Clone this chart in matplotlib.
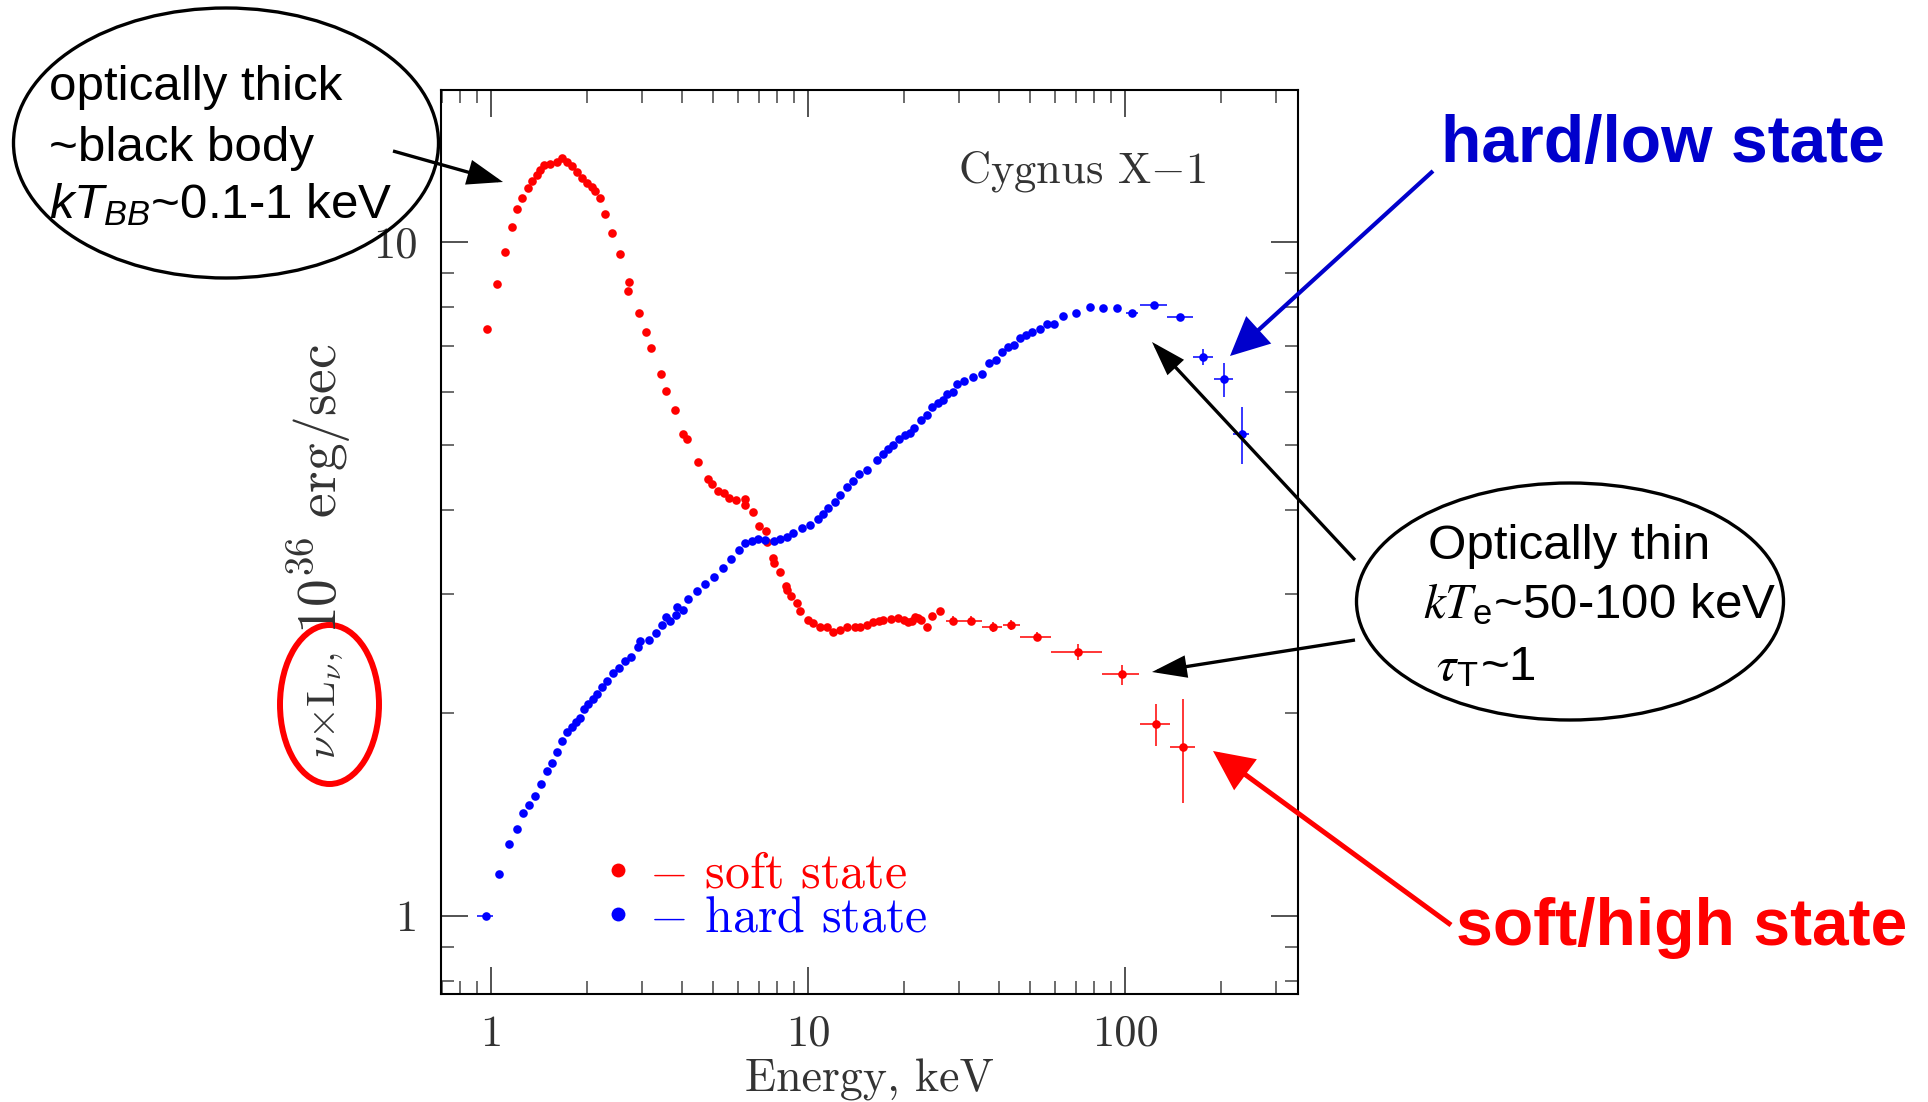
import numpy as np
import matplotlib
matplotlib.use('Agg')
import matplotlib.pyplot as plt
from matplotlib.patches import Ellipse, FancyArrowPatch
from matplotlib.lines import Line2D
from matplotlib import ticker

plt.rcParams['mathtext.fontset'] = 'cm'
plt.rcParams['mathtext.rm'] = 'Liberation Sans'
plt.rcParams['mathtext.it'] = 'Liberation Sans:italic'
plt.rcParams['mathtext.sf'] = 'Liberation Sans'
plt.rcParams['axes.formatter.use_mathtext'] = True

# ---------------- data ----------------
soft_E = [0.969, 1.044, 1.11, 1.162, 1.208, 1.252, 1.305, 1.344, 1.394, 1.428, 1.473,
          1.535, 1.612, 1.671, 1.733, 1.797, 1.863, 1.932, 2.004, 2.078, 2.128, 2.207,
          2.294, 2.413, 2.552, 2.724, 2.71, 2.937, 3.076, 3.204, 3.43, 3.573, 3.805,
          4.024, 4.143, 4.487, 4.848, 4.968, 5.21, 5.433, 5.609, 5.93, 6.33, 6.33, 6.72,
          7.02, 7.37, 7.41, 7.74, 7.82, 8.16, 8.51, 8.58, 8.84, 9.21, 9.44, 10.02, 10.39,
          10.91, 11.46, 11.97, 12.62, 13.24, 14.06, 14.59, 15.3, 16.07, 16.7, 17.28, 18.2,
          19.27, 20.0, 20.72, 21.2, 21.76, 22.2, 22.73, 23.68, 24.55, 26.09]
soft_F = [7.42, 8.67, 9.65, 10.54, 11.18, 11.63, 12.04, 12.32, 12.58, 12.79, 13.01,
          13.06, 13.15, 13.31, 13.15, 12.97, 12.72, 12.43, 12.22, 12.08, 11.91, 11.61,
          11.0, 10.32, 9.59, 8.73, 8.47, 7.86, 7.35, 6.96, 6.36, 6.01, 5.63,
          5.19, 5.10, 4.71, 4.45, 4.375, 4.276, 4.237, 4.168, 4.143, 4.15, 4.07, 3.97,
          3.79, 3.73, 3.585, 3.395, 3.345, 3.235, 3.09, 3.045, 2.987, 2.91, 2.83, 2.75, 2.718,
          2.687, 2.683, 2.64, 2.66, 2.687, 2.687, 2.687, 2.70, 2.733, 2.74, 2.75, 2.76,
          2.765, 2.75, 2.733, 2.74, 2.78, 2.77, 2.75, 2.683, 2.787, 2.838]

soft_bin_E = [28.6, 32.68, 38.24, 43.8, 52.66, 71.1, 97.8, 125.0, 152.4]
soft_bin_F = [2.742, 2.742, 2.683, 2.703, 2.597, 2.464, 2.284, 1.927, 1.783]
soft_bin_Elo = [27.2, 30.6, 35.3, 41.1, 46.7, 58.3, 84.4, 111.2, 138.7]
soft_bin_Ehi = [30.6, 35.3, 41.0, 46.7, 58.3, 84.4, 111.0, 138.7, 166.0]
soft_bin_Flo = [2.70, 2.70, 2.64, 2.66, 2.56, 2.40, 2.20, 1.79, 1.47]
soft_bin_Fhi = [2.79, 2.79, 2.73, 2.75, 2.64, 2.53, 2.36, 2.06, 2.096]

hard_E = [1.062, 1.137, 1.205, 1.264, 1.321, 1.380, 1.438, 1.499, 1.561, 1.615, 1.675,
          1.733, 1.797, 1.854, 1.909, 1.965, 2.027, 2.093, 2.155, 2.235, 2.327, 2.431,
          2.539, 2.647, 2.764, 2.902, 2.951, 3.158, 3.316, 3.456, 3.565, 3.670, 3.833,
          3.869, 4.044, 4.193, 4.476, 4.733, 5.052, 5.382, 5.716, 6.058, 6.33, 6.673,
          6.97, 7.32, 7.78, 8.16, 8.58, 8.99, 9.55, 10.15, 10.78, 11.18, 11.59, 12.17,
          12.62, 13.24, 13.9, 14.52, 15.32, 16.47, 17.28, 17.92, 18.58, 19.41, 20.23,
          20.98, 21.6, 22.73, 23.68, 24.67, 25.66, 26.6, 27.51, 28.6, 29.58, 31.05,
          33.23, 35.32, 37.24, 39.09, 41.02, 42.84, 44.65, 46.7, 48.63, 50.9, 53.94,
          56.88, 59.7, 63.9, 70.0, 77.2, 85.1, 94.2]
hard_F = [1.154, 1.279, 1.348, 1.42, 1.459, 1.508, 1.572, 1.641, 1.687, 1.749, 1.82,
          1.875, 1.909, 1.942, 1.969, 2.028, 2.061, 2.097, 2.135, 2.184, 2.232, 2.291,
          2.331, 2.392, 2.424, 2.504, 2.559, 2.568, 2.627, 2.703, 2.781, 2.742, 2.797,
          2.871, 2.845, 2.957, 3.038, 3.106, 3.187, 3.281, 3.389, 3.491, 3.58, 3.605,
          3.622, 3.613, 3.605, 3.622, 3.646, 3.696, 3.760, 3.803, 3.882, 3.949, 4.035, 4.119,
          4.214, 4.325, 4.424, 4.521, 4.589, 4.75, 4.849, 4.926, 5.0, 5.096, 5.172,
          5.212, 5.29, 5.444, 5.538, 5.685, 5.775, 5.829, 5.949, 5.996, 6.156, 6.226,
          6.299, 6.364, 6.607, 6.683, 6.861, 6.993, 7.033, 7.195, 7.278, 7.36, 7.43,
          7.556, 7.568, 7.766, 7.837, 8.017, 7.99, 7.97]

hard_bin_E = [0.962, 105.0, 122.9, 149.1, 176.6, 205.3, 233.4]
hard_bin_F = [1.0, 7.86, 8.063, 7.73, 6.757, 6.254, 5.19]
hard_bin_Elo = [0.905, 100.5, 111.2, 135.5, 163.9, 190.9, 219.7]
hard_bin_Ehi = [1.017, 109.9, 135.3, 163.5, 189.4, 218.7, 246.6]
hard_bin_Flo = [1.0, 7.86, 8.063, 7.73, 6.56, 5.88, 4.68]
hard_bin_Fhi = [1.0, 7.86, 8.063, 7.73, 6.93, 6.62, 5.7]

x_major = [1, 10, 100]
x_major_labels = ['1', '10', '100']
y_major = [1, 10]
y_major_labels = ['1', '10']

# ---------------- figure ----------------
W, H = 1928, 1102
fig = plt.figure(figsize=(W / 100, H / 100), dpi=100)
fig.patch.set_facecolor('white')


def fx(x):
    return x / W


def fy(y):
    return 1 - y / H


ax = fig.add_axes([441 / W, 1 - 994 / H, 857 / W, 904 / H])
ax.set_xscale('log')
ax.set_yscale('log')
ax.set_xlim(0.695, 351)
ax.set_ylim(0.766, 16.81)

RED = '#ff0000'
BLUE = '#0000ff'

ax.plot(soft_E, soft_F, ls='none', marker='o', ms=6.2, mew=0, color=RED, zorder=3)
ax.plot(hard_E, hard_F, ls='none', marker='o', ms=6.2, mew=0, color=BLUE, zorder=3)


def errbar(E, F, Elo, Ehi, Flo, Fhi, c):
    E = np.array(E); F = np.array(F)
    xerr = [E - np.array(Elo), np.array(Ehi) - E]
    yerr = [F - np.array(Flo), np.array(Fhi) - F]
    ax.errorbar(E, F, xerr=xerr, yerr=yerr, fmt='o', ms=6.2, mew=0, color=c,
                ecolor=c, elinewidth=1.1, capsize=0, zorder=3)


errbar(soft_bin_E, soft_bin_F, soft_bin_Elo, soft_bin_Ehi, soft_bin_Flo, soft_bin_Fhi, RED)
errbar(hard_bin_E, hard_bin_F, hard_bin_Elo, hard_bin_Ehi, hard_bin_Flo, hard_bin_Fhi, BLUE)

# axes styling
for s in ax.spines.values():
    s.set_linewidth(1.5)
    s.set_color('black')

ax.xaxis.set_major_locator(ticker.FixedLocator(x_major))
ax.xaxis.set_major_formatter(ticker.FixedFormatter(x_major_labels))
ax.yaxis.set_major_locator(ticker.FixedLocator(y_major))
ax.yaxis.set_major_formatter(ticker.FixedFormatter(y_major_labels))
ax.xaxis.set_minor_locator(ticker.LogLocator(base=10, subs=np.arange(2, 10), numticks=20))
ax.yaxis.set_minor_locator(ticker.LogLocator(base=10, subs=np.arange(2, 10), numticks=20))
ax.xaxis.set_minor_formatter(ticker.NullFormatter())
ax.yaxis.set_minor_formatter(ticker.NullFormatter())

ax.tick_params(which='both', direction='in', top=True, right=True, color='#444444')
ax.tick_params(which='major', length=19.5, width=1.3)
ax.tick_params(which='minor', length=9.5, width=1.1)
ax.tick_params(axis='x', which='major', pad=15, labelsize=32, labelcolor='#333333',
               labelfontfamily='cmr10')
ax.tick_params(axis='y', which='major', pad=17, labelsize=32, labelcolor='#333333',
               labelfontfamily='cmr10')

ax.set_xlabel('Energy, keV', fontsize=33, fontfamily='cmr10', color='#333333', labelpad=3)

# y label in two pieces (the first one is smaller in the reference)
fig.text(fx(325), fy(706), r'$\nu{\times}\mathrm{L}_{\nu},$',
         rotation=90, ha='center', va='center', fontsize=29.5, color='#333333')
fig.text(fx(320), fy(489), r'$10^{36}\ \mathrm{erg/sec}$',
         rotation=90, ha='center', va='center', fontsize=40, color='#333333')

ax.text(0.748, 0.91, r'Cygnus X$-$1', transform=ax.transAxes, ha='center', va='center',
        fontsize=32, fontfamily='cmr10', color='#333333')

# legend
handles = [Line2D([], [], ls='none', marker='o', ms=10, mew=0, color=RED),
           Line2D([], [], ls='none', marker='o', ms=10, mew=0, color=BLUE)]
labels = [r'$-$ soft state', r'$-$ hard state']
ax.legend(handles, labels, loc='lower left', bbox_to_anchor=(0.19, 0.058), frameon=False,
          prop={'family': 'cmr10', 'size': 36}, handlelength=0.55, handletextpad=0.35,
          labelspacing=-0.03, borderpad=0, borderaxespad=0, labelcolor=[RED, BLUE])

# ---------------- annotations ----------------
# left ellipse
fig.add_artist(Ellipse((fx(226), fy(143)), 425 / W, 270 / H, transform=fig.transFigure,
                       facecolor='none', edgecolor='black', lw=2.4))
fs_ann = 35.5
fig.text(fx(49), fy(100), 'optically thick', fontsize=fs_ann, family='Liberation Sans',
         va='baseline', ha='left')
fig.text(fx(49), fy(161), '~black body', fontsize=fs_ann, family='Liberation Sans',
         va='baseline', ha='left')
fig.text(fx(49), fy(218), r'$kT_{BB}$~0.1-1 keV', fontsize=fs_ann, family='Liberation Sans',
         va='baseline', ha='left', math_fontfamily='custom')

# right ellipse
fig.add_artist(Ellipse((fx(1570), fy(601.5)), 427 / W, 237 / H, transform=fig.transFigure,
                       facecolor='none', edgecolor='black', lw=2.4))
fig.text(fx(1428), fy(559), 'Optically thin', fontsize=fs_ann, family='Liberation Sans',
         va='baseline', ha='left')
fig.text(fx(1423), fy(618), r'$kT_{\mathregular{e}}$~50-100 keV', fontsize=fs_ann,
         family='Liberation Sans', va='baseline', ha='left', math_fontfamily='stix')
fig.text(fx(1423), fy(680), r' $\tau_{\mathregular{T}}$~1', fontsize=fs_ann,
         family='Liberation Sans', va='baseline', ha='left', math_fontfamily='stix')

# red ellipse on the y label
fig.add_artist(Ellipse((fx(329.5), fy(704.5)), 99 / W, 159 / H, transform=fig.transFigure,
                       facecolor='none', edgecolor=RED, lw=4.3))

# state labels
fig.text(fx(1441), fy(162), 'hard/low state', fontsize=47.5, fontweight='bold',
         family='Liberation Sans', color='#0000cc', va='baseline', ha='left')
fig.text(fx(1456), fy(945), 'soft/high state', fontsize=47.5, fontweight='bold',
         family='Liberation Sans', color=RED, va='baseline', ha='left')


def arrow(x0, y0, x1, y1, color, lw, hl, hw):
    a = FancyArrowPatch((fx(x0), fy(y0)), (fx(x1), fy(y1)), transform=fig.transFigure,
                        arrowstyle=f'-|>,head_length={hl},head_width={hw}',
                        mutation_scale=1, lw=lw, color=color, shrinkA=0, shrinkB=0,
                        joinstyle='miter', capstyle='butt')
    fig.add_artist(a)


arrow(393, 151, 503, 182, 'black', 2.4, 21, 7.5)
arrow(1355, 560, 1152, 342, 'black', 2.4, 20, 6.5)
arrow(1355, 640, 1152, 672, 'black', 2.4, 20, 6.5)
arrow(1433, 171, 1230, 356, '#0000cc', 3.0, 23, 11)
arrow(1451, 925, 1213, 751, RED, 3.6, 23, 11)

fig.savefig('out.png', dpi=100, facecolor='white')
